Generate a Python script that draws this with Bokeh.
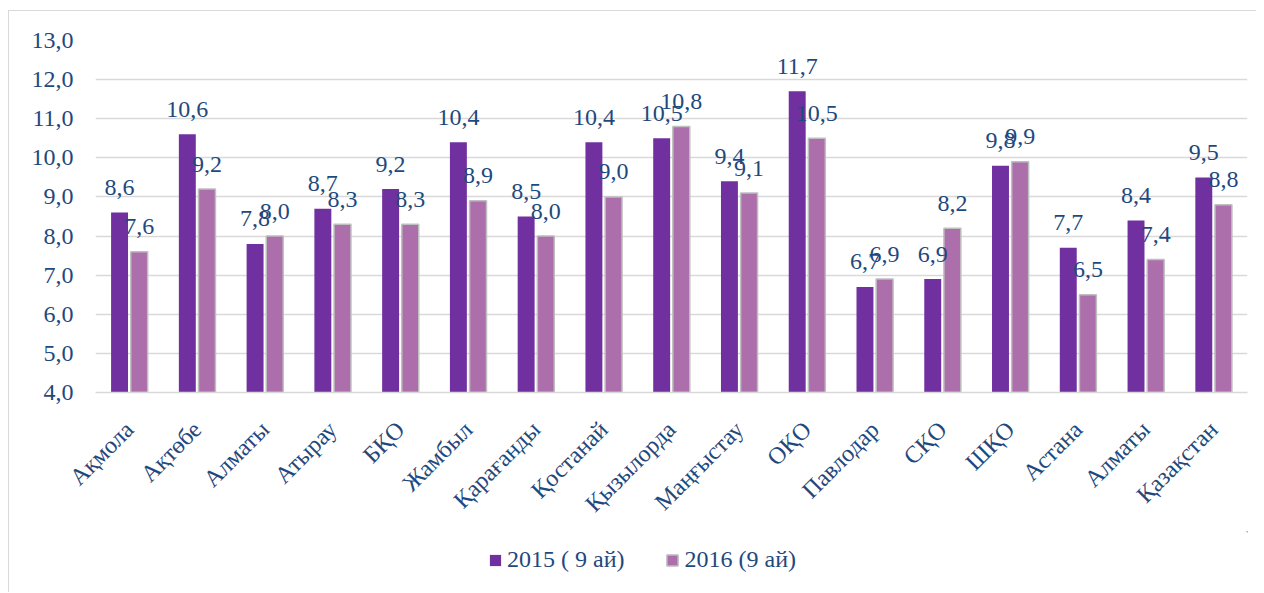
import math
from bokeh.plotting import figure
from bokeh.layouts import column
from bokeh.models import (ColumnDataSource, FixedTicker, CustomJSTickFormatter, Range1d,
                          Legend, LegendItem)
from bokeh.core.properties import value
from bokeh.embed import file_html
from bokeh.resources import INLINE

categories = ["Ақмола", "Ақтөбе", "Алматы", "Атырау", "БҚО", "Жамбыл", "Қарағанды",
              "Қостанай", "Қызылорда", "Маңғыстау", "ОҚО", "Павлодар", "СҚО", "ШҚО",
              "Астана", "Алматы", "Қазақстан"]
series_names = ["2015 ( 9 ай)", "2016 (9 ай)"]
values_2015 = [8.6, 10.6, 7.8, 8.7, 9.2, 10.4, 8.5, 10.4, 10.5, 9.4, 11.7, 6.7, 6.9, 9.8, 7.7, 8.4, 9.5]
values_2016 = [7.6, 9.2, 8.0, 8.3, 8.3, 8.9, 8.0, 9.0, 10.8, 9.1, 10.5, 6.9, 8.2, 9.9, 6.5, 7.4, 8.8]
y_ticks = [4, 5, 6, 7, 8, 9, 10, 11, 12, 13]

FONT = "Liberation Serif"
TEXT_COLOR = "#1f497d"
C2015 = "#7030a0"
C2016 = "#ad6fab"
C2016_EDGE = "#bfbfbf"
GRID = "#d9d9d9"

n = len(categories)
idx = list(range(n))
dodge = 0.145
bar_w = 0.25

def fmt(v):
    return f"{v:.1f}".replace(".", ",")

src15 = ColumnDataSource(dict(x=[i - dodge for i in idx], top=values_2015,
                              lab=[fmt(v) for v in values_2015]))
src16 = ColumnDataSource(dict(x=[i + dodge for i in idx], top=values_2016,
                              lab=[fmt(v) for v in values_2016]))

bar15 = dict(x="x", top="top", bottom=y_ticks[0], width=bar_w, source=src15,
             fill_color=C2015, line_color=None)
bar16 = dict(x="x", top="top", bottom=y_ticks[0], width=bar_w, source=src16,
             fill_color=C2016, line_color=C2016_EDGE, line_width=1.5)

# ---------------- main chart ----------------
p = figure(width=1247, height=520, output_backend="svg", toolbar_location=None,
           x_range=Range1d(-0.5, n - 0.5), y_range=Range1d(y_ticks[0], y_ticks[-1]),
           min_border_left=86, min_border_right=9, min_border_top=29, min_border_bottom=139)
p.outline_line_color = None
p.background_fill_color = "white"
p.border_fill_color = "white"

p.vbar(**bar15)
p.vbar(**bar16)

for s in (src15, src16):
    p.text(x="x", y="top", text="lab", source=s, y_offset=-25,
           text_align="center", text_baseline="middle",
           text_font=value(FONT), text_font_size="24px", text_color=TEXT_COLOR)

# y axis
p.yaxis.ticker = FixedTicker(ticks=y_ticks)
p.yaxis.major_label_overrides = {t: fmt(t) for t in y_ticks}
p.yaxis.axis_line_color = None
p.yaxis.major_tick_line_color = None
p.yaxis.minor_tick_line_color = None
p.yaxis.major_tick_out = 0
p.yaxis.major_label_standoff = 22
p.yaxis.major_label_text_font = FONT
p.yaxis.major_label_text_font_size = "24px"
p.yaxis.major_label_text_color = TEXT_COLOR

p.ygrid.ticker = FixedTicker(ticks=y_ticks)
p.ygrid.grid_line_color = GRID
p.ygrid.grid_line_width = 1.5
p.xgrid.grid_line_color = None

# x axis
p.xaxis.ticker = FixedTicker(ticks=idx)
p.xaxis.formatter = CustomJSTickFormatter(args=dict(labels=categories),
                                          code="return labels[Math.round(tick)];")
p.xaxis.axis_line_color = GRID
p.xaxis.axis_line_width = 1.5
p.xaxis.major_tick_line_color = None
p.xaxis.minor_tick_line_color = None
p.xaxis.major_tick_out = 0
p.xaxis.major_label_standoff = 33
p.xaxis.major_label_orientation = math.pi / 4
p.xaxis.major_label_text_font = FONT
p.xaxis.major_label_text_font_size = "24px"
p.xaxis.major_label_text_color = TEXT_COLOR

# ---------------- legend strip (same series; its view holds none of the bars) ----------------
pl = figure(width=1247, height=61, output_backend="svg", toolbar_location=None,
            x_range=Range1d(-3, -2), y_range=Range1d(-3, -2),
            x_axis_location=None, y_axis_location=None, min_border=0)
pl.outline_line_color = None
pl.grid.visible = False
pl.background_fill_color = "white"
pl.border_fill_color = "white"
l15 = pl.vbar(**bar15)
l16 = pl.vbar(**bar16)

legend = Legend(items=[LegendItem(label=series_names[0], renderers=[l15]),
                       LegendItem(label=series_names[1], renderers=[l16])],
                location=(393, 19), orientation="horizontal",
                glyph_width=14, glyph_height=14, label_standoff=5, spacing=41,
                padding=0, margin=0, border_line_color=None, background_fill_alpha=0,
                label_text_font=FONT, label_text_font_size="24px",
                label_text_color=TEXT_COLOR)
pl.add_layout(legend, "center")

layout = column(p, pl, spacing=0,
                styles={"border-left": "1px solid #d9d9d9", "border-top": "1px solid #d9d9d9",
                        "position": "relative", "left": "8px", "top": "10px"})

open("out.html", "w").write(file_html(layout, INLINE))
